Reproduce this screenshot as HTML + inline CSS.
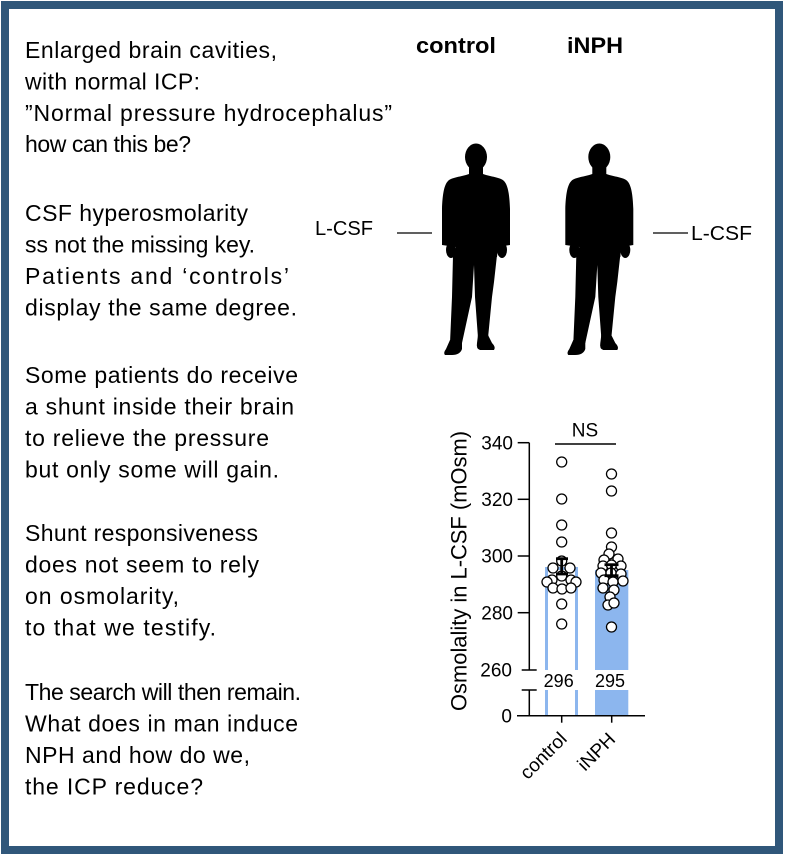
<!DOCTYPE html>
<html>
<head>
<meta charset="utf-8">
<style>
  html,body{margin:0;padding:0;background:#fff;}
  body{width:785px;height:854px;overflow:hidden;}
  svg{display:block;}
  .t{font-family:"Liberation Sans",Arial,sans-serif;font-size:23px;fill:#000;}
  .c{font-family:"Liberation Sans",Arial,sans-serif;fill:#000;}
</style>
</head>
<body>
<svg width="785" height="854" viewBox="0 0 785 854" xmlns="http://www.w3.org/2000/svg">
  <rect x="0" y="0" width="785" height="854" fill="#fff"/>
  <!-- frame -->
  <rect x="5" y="5" width="774" height="845" fill="none" stroke="#30577a" stroke-width="8"/>

  <!-- left poem text -->
  <g class="t">
    <text x="25" y="58" textLength="252" lengthAdjust="spacing">Enlarged brain cavities,</text>
    <text x="25" y="89.5" textLength="175" lengthAdjust="spacing">with normal ICP:</text>
    <text x="25" y="121" textLength="367" lengthAdjust="spacing">”Normal pressure hydrocephalus”</text>
    <text x="25" y="152" textLength="166" lengthAdjust="spacing">how can this be?</text>

    <text x="25" y="221" textLength="223" lengthAdjust="spacing">CSF hyperosmolarity</text>
    <text x="25" y="252.5" textLength="230" lengthAdjust="spacing">ss not the missing key.</text>
    <text x="25" y="284" textLength="264" lengthAdjust="spacing">Patients and ‘controls’</text>
    <text x="25" y="315.5" textLength="272" lengthAdjust="spacing">display the same degree.</text>

    <text x="25" y="383" textLength="273" lengthAdjust="spacing">Some patients do receive</text>
    <text x="25" y="414.5" textLength="269" lengthAdjust="spacing">a shunt inside their brain</text>
    <text x="25" y="446" textLength="244" lengthAdjust="spacing">to relieve the pressure</text>
    <text x="25" y="477.5" textLength="254" lengthAdjust="spacing">but only some will gain.</text>

    <text x="25" y="541" textLength="233" lengthAdjust="spacing">Shunt responsiveness</text>
    <text x="25" y="572.5" textLength="234" lengthAdjust="spacing">does not seem to rely</text>
    <text x="25" y="604" textLength="154" lengthAdjust="spacing">on osmolarity,</text>
    <text x="25" y="635.5" textLength="191" lengthAdjust="spacing">to that we testify.</text>

    <text x="25" y="700" textLength="276" lengthAdjust="spacing">The search will then remain.</text>
    <text x="25" y="731.5" textLength="273" lengthAdjust="spacing">What does in man induce</text>
    <text x="25" y="763" textLength="225" lengthAdjust="spacing">NPH and how do we,</text>
    <text x="25" y="794.5" textLength="178" lengthAdjust="spacing">the ICP reduce?</text>
  </g>

  <!-- headers -->
  <text class="c" x="416" y="53" font-size="22" font-weight="bold" textLength="80" lengthAdjust="spacingAndGlyphs">control</text>
  <text class="c" x="567" y="53" font-size="22" font-weight="bold" textLength="56" lengthAdjust="spacingAndGlyphs">iNPH</text>

  <!-- silhouettes -->
  <defs>
    <g id="man">
      <ellipse cx="0" cy="0" rx="11" ry="13.5"/>
      <rect x="-7" y="6" width="14" height="16"/>
      <path d="M -7 17 C -15 20, -24 20, -28 24 C -32 28, -33.5 38, -34 52 L -34 88 L -20 90 L -23 100 L 21 100 L 22 90 L 34 88 L 34 52 C 33.5 38, 32 28, 28 24 C 24 20, 15 20, 7 17 Z"/>
      <ellipse cx="-25" cy="93" rx="5" ry="8"/>
      <ellipse cx="26" cy="93" rx="5" ry="8"/>
      <path d="M -23 98 L 21 98 L 18 125 L 16 140 L 12 181 L 2 181 L -1 140 L -2 108 L -4 140 L -14 186 L -26 186 L -24 140 Z"/>
      <path d="M -26 183 L -14 183 L -14 192 Q -16 198 -24 198 L -31 198 Q -33 196 -30 192 Z"/>
      <path d="M 2 178 L 12 178 L 16 186 Q 20 190 18 193 L 4 193 Q 0 192 1 186 Z"/>
    </g>
  </defs>
  <use href="#man" x="476" y="157" fill="#000"/>
  <use href="#man" x="599.3" y="157" fill="#000"/>

  <!-- L-CSF labels -->
  <text class="c" x="315" y="235" font-size="20" textLength="58" lengthAdjust="spacingAndGlyphs">L-CSF</text>
  <line x1="397" y1="233" x2="432" y2="233" stroke="#000" stroke-width="1.3"/>
  <line x1="653" y1="233" x2="688" y2="233" stroke="#000" stroke-width="1.3"/>
  <text class="c" x="691" y="240" font-size="20" textLength="61" lengthAdjust="spacingAndGlyphs">L-CSF</text>

  <!-- chart -->
  <path d="M546.5 670 V568.5 H576.5 V670" fill="#fff" stroke="#8cb6ee" stroke-width="3"/>
  <line x1="546.5" y1="690" x2="546.5" y2="715" stroke="#8cb6ee" stroke-width="3"/>
  <line x1="576.5" y1="690" x2="576.5" y2="715" stroke="#8cb6ee" stroke-width="3"/>
  <rect x="595" y="570" width="33.3" height="100" fill="#8cb6ee"/>
  <rect x="595" y="690" width="33.3" height="25" fill="#8cb6ee"/>

  <!-- data points -->
  <g fill="#fff" stroke="#000" stroke-width="1.3">
    <circle cx="561.7" cy="462" r="5"/>
    <circle cx="561.7" cy="499" r="5"/>
    <circle cx="561.7" cy="525" r="5"/>
    <circle cx="561.7" cy="542" r="5"/>
    <circle cx="561.7" cy="561" r="5"/>
    <circle cx="553" cy="568" r="5"/>
    <circle cx="570" cy="568" r="5"/>
    <circle cx="561.7" cy="576" r="5"/>
    <circle cx="552" cy="580" r="5"/>
    <circle cx="571" cy="580" r="5"/>
    <circle cx="576" cy="582" r="5"/>
    <circle cx="547" cy="582" r="5"/>
    <circle cx="553" cy="588" r="5"/>
    <circle cx="562" cy="589" r="5"/>
    <circle cx="571" cy="588" r="5"/>
    <circle cx="561.7" cy="604" r="5"/>
    <circle cx="561.7" cy="624" r="5"/>

    <circle cx="611.5" cy="474" r="5"/>
    <circle cx="611.5" cy="491" r="5"/>
    <circle cx="611.5" cy="533" r="5"/>
    <circle cx="611.5" cy="547" r="5"/>
    <circle cx="609" cy="554" r="5"/>
    <circle cx="604" cy="560" r="5"/>
    <circle cx="618" cy="559" r="5"/>
    <circle cx="603" cy="566" r="5"/>
    <circle cx="611.5" cy="565" r="5"/>
    <circle cx="621" cy="566" r="5"/>
    <circle cx="601" cy="573" r="5"/>
    <circle cx="611" cy="573" r="5"/>
    <circle cx="621" cy="574" r="5"/>
    <circle cx="604" cy="580" r="5"/>
    <circle cx="613" cy="582" r="5"/>
    <circle cx="623" cy="581" r="5"/>
    <circle cx="603" cy="588" r="5"/>
    <circle cx="614" cy="590" r="5"/>
    <circle cx="610" cy="597" r="5"/>
    <circle cx="608" cy="605" r="5"/>
    <circle cx="614" cy="603" r="5"/>
    <circle cx="611.5" cy="627" r="5"/>
  </g>

  <!-- error bars -->
  <g stroke="#000" stroke-width="2.8" fill="none">
    <line x1="561.7" y1="558.7" x2="561.7" y2="574"/>
    <line x1="556" y1="558.7" x2="568" y2="558.7"/>
    <line x1="556" y1="574" x2="568" y2="574"/>
    <line x1="611.5" y1="564.7" x2="611.5" y2="575.7"/>
    <line x1="604.5" y1="564.7" x2="618.5" y2="564.7"/>
    <line x1="604.5" y1="575.7" x2="618.5" y2="575.7"/>
  </g>

  <!-- axes -->
  <g stroke="#000" stroke-width="1.5" fill="none">
    <line x1="529.3" y1="442.7" x2="529.3" y2="670"/>
    <line x1="517.7" y1="442.7" x2="529.3" y2="442.7"/>
    <line x1="517.7" y1="499.3" x2="529.3" y2="499.3"/>
    <line x1="517.7" y1="556" x2="529.3" y2="556"/>
    <line x1="517.7" y1="612.7" x2="529.3" y2="612.7"/>
    <line x1="521.7" y1="670" x2="536.7" y2="670"/>
    <line x1="529.3" y1="690" x2="529.3" y2="715.7"/>
    <line x1="521.7" y1="690" x2="536.7" y2="690"/>
    <line x1="517" y1="715.7" x2="645" y2="715.7"/>
    <line x1="561.7" y1="715.7" x2="561.7" y2="722.7"/>
    <line x1="611.7" y1="715.7" x2="611.7" y2="722.7"/>
    <line x1="555" y1="444" x2="616" y2="444"/>
  </g>

  <!-- tick labels -->
  <g class="c" font-size="19" text-anchor="end">
    <text x="513" y="449.5">340</text>
    <text x="513" y="506">320</text>
    <text x="513" y="562.7">300</text>
    <text x="513" y="619.4">280</text>
    <text x="512" y="676.5">260</text>
    <text x="512" y="722.4">0</text>
  </g>
  <text class="c" x="585" y="436.5" font-size="19" text-anchor="middle">NS</text>
  <text class="c" x="558.7" y="687" font-size="18" text-anchor="middle">296</text>
  <text class="c" x="610" y="687" font-size="18" text-anchor="middle">295</text>

  <text class="c" font-size="19" text-anchor="end" transform="translate(568,740) rotate(-45)">control</text>
  <text class="c" font-size="19" text-anchor="end" transform="translate(616.5,740.5) rotate(-45)">iNPH</text>

  <text class="c" font-size="22" text-anchor="middle" textLength="280" lengthAdjust="spacingAndGlyphs" transform="translate(466.5,571) rotate(-90)">Osmolality in L-CSF (mOsm)</text>
</svg>
</body>
</html>
